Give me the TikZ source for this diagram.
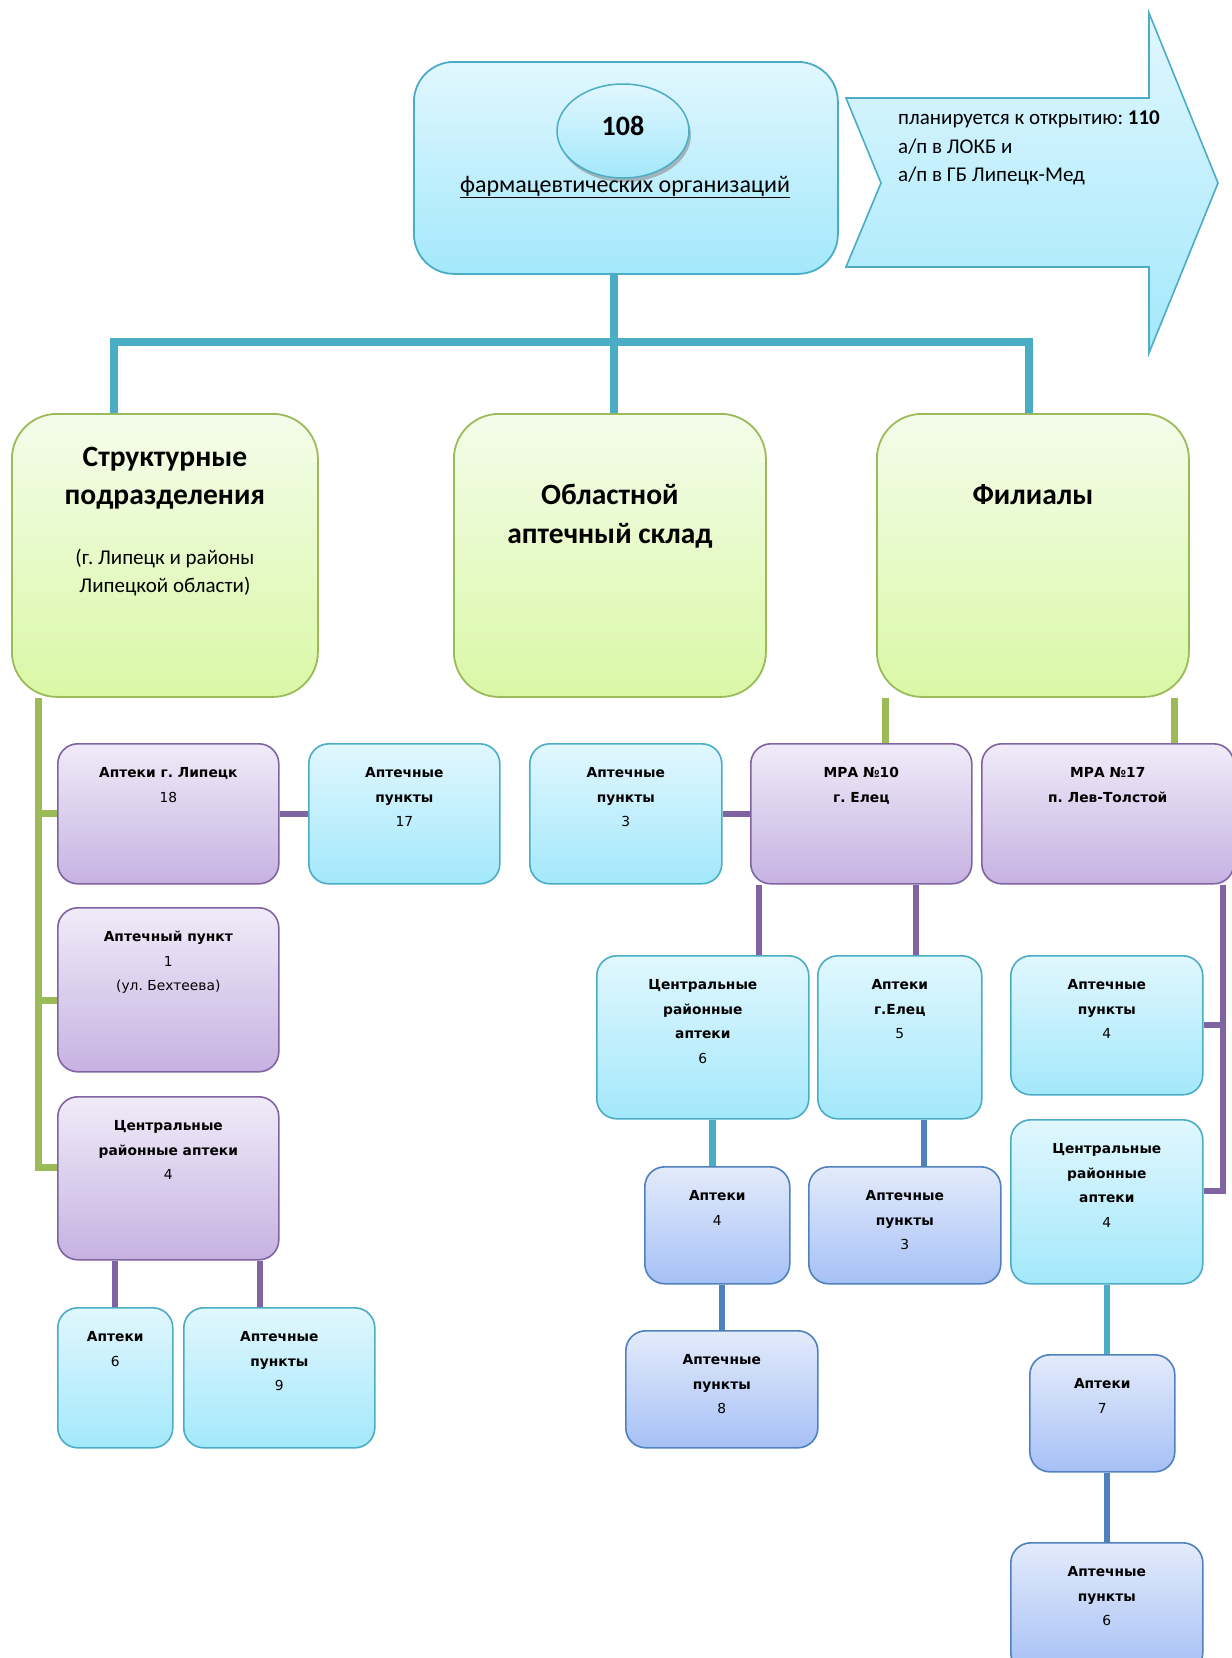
\documentclass[tikz,border=0pt]{standalone}
\usepackage{fontspec}
\setmainfont{Carlito}
\newfontfamily\cellfont{DejaVu Sans}
\usetikzlibrary{shapes.geometric,shadows,positioning}
\frenchspacing

\definecolor{tealline}{HTML}{4BACC6}
\definecolor{greenline}{HTML}{9BBB59}
\definecolor{violetline}{HTML}{8064A2}
\definecolor{blueline}{HTML}{4F81BD}
\definecolor{cyantop}{HTML}{E1F7FE}
\definecolor{cyanbot}{HTML}{A3E8FB}
\definecolor{greentop}{HTML}{F4FCEA}
\definecolor{greenbot}{HTML}{D9F8A6}
\definecolor{violettop}{HTML}{F0EBF8}
\definecolor{violetbot}{HTML}{C6B2E2}
\definecolor{bluetop}{HTML}{E3EBFB}
\definecolor{bluebot}{HTML}{A6C0F6}

% box contents: text hangs from the top edge
\newcommand{\cellbody}[3]{\begin{minipage}[t][#2][t]{#1}\centering\rule{0pt}{34pt}#3\end{minipage}}
\newcommand{\bigbody}[4]{\begin{minipage}[t][#2][t]{#1}\centering\rule{0pt}{#3}#4\end{minipage}}

\tikzset{
  unitbox/.style={anchor=north west, inner sep=0pt, rounded corners=20pt, line width=1.6pt,
    font=\cellfont\fontsize{13.8}{24.5}\selectfont},
  cyanbox/.style={unitbox, draw=tealline, top color=cyantop, bottom color=cyanbot},
  violetbox/.style={unitbox, draw=violetline, top color=violettop, bottom color=violetbot},
  bluebox/.style={unitbox, draw=blueline, top color=bluetop, bottom color=bluebot},
  greenbox/.style={anchor=north west, inner sep=0pt, rounded corners=45pt, line width=1.8pt,
    draw=greenline, top color=greentop, bottom color=greenbot},
  topwire/.style={tealline, line width=7.5pt},
  tealwire/.style={tealline, line width=6.5pt},
  greenwire/.style={greenline, line width=7pt},
  violetwire/.style={violetline, line width=6pt},
  bluewire/.style={blueline, line width=6.5pt},
}

\begin{document}
\begin{tikzpicture}[x=1pt, y=-1pt]
\useasboundingbox (0,0) rectangle (1232,1658);
\clip (0,0) rectangle (1232,1658);

% head of the tree
\node[anchor=north west, minimum width=424pt, minimum height=212pt, rounded corners=40pt,
  line width=1.8pt, draw=tealline, top color=cyantop, bottom color=cyanbot] (top) at (413,61) {};
\node[ellipse, minimum width=132pt, minimum height=94pt, line width=1.5pt, draw=tealline,
  top color=cyantop, bottom color=cyanbot,
  drop shadow={shadow xshift=2pt, shadow yshift=-4pt, fill=black!45, opacity=.6},
  font=\bfseries\fontsize{28}{32}\selectfont] (n108) at (623,131) {\raisebox{10pt}{108}};
\node[font=\fontsize{24}{28}\selectfont] (orgs) at (625,187) {\underline{фармацевтических организаций}};

% notched arrow
\draw[line width=1.6pt, draw=tealline, top color=cyantop, bottom color=cyanbot]
  (846,98) -- (1149,98) -- (1149,13) -- (1218,183) -- (1149,353) -- (1149,267)
  -- (846,267) -- (881,183) -- cycle;
\node[anchor=north west, align=left, inner sep=0pt, font=\fontsize{21}{28.5}\selectfont] (plan)
  at (898,111) {планируется к открытию: \textbf{110}\\а/п в ЛОКБ и\\а/п в ГБ Липецк-Мед};

% second level
\node[greenbox] (struct) at (11,413) {\bigbody{306pt}{283pt}{53pt}{{\bfseries\fontsize{29.5}{38}\selectfont
  Структурные\\подразделения\par}\vspace{32pt}{\fontsize{21}{28}\selectfont(г. Липецк и районы\\Липецкой области)\par}}};
\node[greenbox] (sklad) at (453,413) {\bigbody{312pt}{283pt}{91pt}{\bfseries\fontsize{29.5}{39}\selectfont
  Областной\\аптечный склад\par}};
\node[greenbox] (fil) at (876,413) {\bigbody{312pt}{283pt}{91pt}{\bfseries\fontsize{29.5}{39}\selectfont Филиалы\par}};

% structural units
\node[violetbox] (aplip) at (57,743) {\cellbody{221pt}{140pt}{\textbf{Аптеки г. Липецк}\\18}};
\node[cyanbox] (punlip) at (308,743) {\cellbody{191pt}{140pt}{\textbf{Аптечные}\\\textbf{пункты}\\17}};
\node[violetbox] (punbekh) at (57,907) {\cellbody{221pt}{164pt}{\textbf{Аптечный пункт}\\1\\(ул. Бехтеева)}};
\node[violetbox] (crapl) at (57,1096) {\cellbody{221pt}{163pt}{\textbf{Центральные}\\\textbf{районные аптеки}\\4}};
\node[cyanbox] (apcra) at (57,1307) {\cellbody{115pt}{140pt}{\textbf{Аптеки}\\6}};
\node[cyanbox] (puncra) at (183,1307) {\cellbody{191pt}{140pt}{\textbf{Аптечные}\\\textbf{пункты}\\9}};

% branches
\node[cyanbox] (punel) at (529,743) {\cellbody{192pt}{140pt}{\textbf{Аптечные}\\\textbf{пункты}\\3}};
\node[violetbox] (mra10) at (750,743) {\cellbody{221pt}{140pt}{\textbf{МРА №10}\\\textbf{г. Елец}}};
\node[violetbox] (mra17) at (981,743) {\cellbody{252pt}{140pt}{\textbf{МРА №17}\\\textbf{п. Лев-Толстой}}};
\node[cyanbox] (craelc) at (596,955) {\cellbody{212pt}{163pt}{\textbf{Центральные}\\\textbf{районные}\\\textbf{аптеки}\\6}};
\node[cyanbox] (apel) at (817,955) {\cellbody{164pt}{163pt}{\textbf{Аптеки}\\\textbf{г.Елец}\\5}};
\node[bluebox] (apcel) at (644,1166) {\cellbody{145pt}{117pt}{\textbf{Аптеки}\\4}};
\node[bluebox] (punelc) at (808,1166) {\cellbody{192pt}{117pt}{\textbf{Аптечные}\\\textbf{пункты}\\3}};
\node[bluebox] (puncel) at (625,1330) {\cellbody{192pt}{117pt}{\textbf{Аптечные}\\\textbf{пункты}\\8}};
\node[cyanbox] (puntol) at (1010,955) {\cellbody{192pt}{139pt}{\textbf{Аптечные}\\\textbf{пункты}\\4}};
\node[cyanbox] (cratol) at (1010,1119) {\cellbody{192pt}{164pt}{\textbf{Центральные}\\\textbf{районные}\\\textbf{аптеки}\\4}};
\node[bluebox] (apctol) at (1029,1354) {\cellbody{145pt}{117pt}{\textbf{Аптеки}\\7}};
\node[bluebox] (punctol) at (1010,1542) {\cellbody{192pt}{130pt}{\textbf{Аптечные}\\\textbf{пункты}\\6}};

% top tree
\coordinate (hub) at (614,342);
\coordinate (hubl) at (114,342);
\coordinate (hubr) at (1029,342);
\draw[topwire] (struct.north -| hubl) -- (hubl) -- (hubr) -- (fil.north -| hubr);
\draw[topwire] (top.south -| hub) -- (sklad.north -| hub);

% green links
\coordinate (spine) at ([xshift=27pt]struct.south west);
\coordinate (ticka) at ([yshift=11pt]crapl.west);
\coordinate (tickb) at ([yshift=-11pt]punbekh.west);
\draw[greenwire] (spine) -- (spine |- ticka) -- (ticka);
\draw[greenwire] (spine |- aplip.west) -- (aplip.west);
\draw[greenwire] (spine |- tickb) -- (tickb);
\coordinate (fl) at ([xshift=9pt]fil.south west);
\coordinate (fr) at ([xshift=-15pt]fil.south east);
\draw[greenwire] (fl) -- (fl |- mra10.north);
\draw[greenwire] (fr) -- (fr |- mra17.north);

% violet links
\draw[violetwire] (aplip.east) -- (punlip.west);
\draw[violetwire] (punel.east) -- (mra10.west);
\draw[violetwire] (apcra.north |- crapl.south) -- (apcra.north);
\coordinate (cr) at ([xshift=-20pt]crapl.south east);
\draw[violetwire] (cr) -- (cr |- puncra.north);
\coordinate (ml) at ([xshift=9pt]mra10.south west);
\coordinate (mr) at ([xshift=-57pt]mra10.south east);
\draw[violetwire] (ml) -- (ml |- craelc.north);
\draw[violetwire] (mr) -- (mr |- apel.north);
\coordinate (ms) at ([xshift=-12pt]mra17.south east);
\coordinate (tickc) at ([yshift=11pt]cratol.east);
\draw[violetwire] (ms) -- (ms |- tickc) -- (tickc);
\draw[violetwire] (ms |- puntol.east) -- (puntol.east);

% lower links
\coordinate (cx) at ([xshift=-5pt]apcel.north);
\draw[tealwire] (cx |- craelc.south) -- (cx);
\coordinate (dx) at ([xshift=19pt]punelc.north);
\draw[bluewire] (dx |- apel.south) -- (dx);
\draw[bluewire] (apcel.south -| puncel.north) -- (puncel.north);
\draw[tealwire] (cratol.south) -- (cratol.south |- apctol.north);
\draw[bluewire] (apctol.south -| punctol.north) -- (punctol.north);
\end{tikzpicture}
\end{document}
